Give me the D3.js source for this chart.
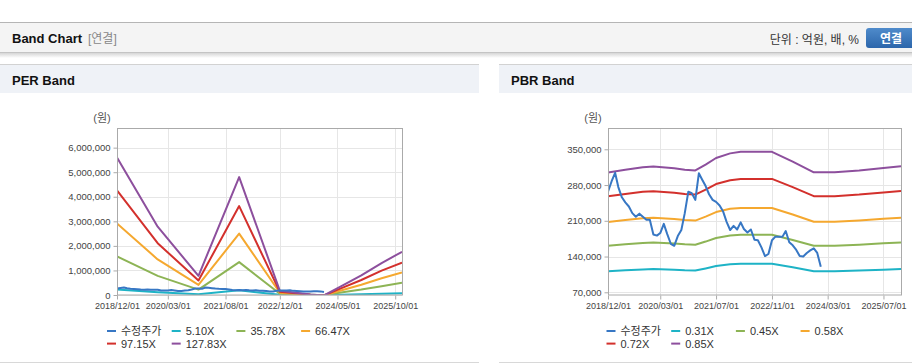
<!DOCTYPE html>
<html><head><meta charset="utf-8">
<script src="https://cdn.jsdelivr.net/npm/d3@7"></script>
<style>
html,body{margin:0;padding:0;background:#fff;}
svg{display:block;font-family:"Liberation Sans","Noto Sans CJK KR",sans-serif;}
</style></head>
<body><svg id="c" width="912" height="364"></svg>
<script>
// ---------- DATA ----------
const priceStart = "2018-12-01"; // monthly adjusted price, one value per month
const priceValues = [267,287,304,276,256,246,238,225,218,224,218,212,212,183,181,186,204,184,165,161,180,192,225,267,264,251,303,291,278,262,251,247,240,228,208,192,200,193,207,194,187,193,173,172,158,141,145,172,179,179,179,190,168,162,153,141,140,147,152,156,147,120].map(v=>v*1000);

const perDates = ["2018-12-01","2019-12-01","2020-12-01","2021-12-01","2022-12-01","2023-09-01","2024-01-01","2024-06-01","2024-12-01","2025-06-01","2025-12-01"];
const per510   = [223000,111000,31000,192000,7000,1000,-1000,14000,32000,55000,75000];
const per3578  = [1570000,780000,220000,1340000,48000,6000,-6000,100000,220000,360000,500000];
const per6647  = [2910000,1450000,410000,2500000,90000,10000,-10000,180000,420000,680000,920000];
const per9715  = [4260000,2110000,590000,3620000,130000,15000,-15000,270000,610000,990000,1320000];
const per12783 = [5600000,2780000,780000,4800000,170000,20000,-20000,350000,800000,1300000,1760000];
const perLabels = ["수정주가","5.10X","35.78X","66.47X","97.15X","127.83X"];
const perTicksY = [0,1000000,2000000,3000000,4000000,5000000,6000000];
const perTicksX = ["2018-12-01","2020-03-01","2021-08-01","2022-12-01","2024-05-01","2025-10-01"];

const pbrDates = ["2018-12-01","2019-05-01","2019-10-01","2020-01-01","2020-07-01","2020-10-01","2021-01-01","2021-04-01","2021-07-01","2021-11-01","2022-02-01","2022-11-01","2023-05-01","2023-11-01","2024-05-01","2024-12-01","2025-07-01","2025-12-01"];
const pbr031 = [111100,113100,114800,115500,114200,113100,112500,116700,121400,124900,126000,126000,118900,111200,111200,112500,114300,115600];
const pbr045 = [161100,164000,166600,167500,165600,164000,163200,169300,176200,181200,182500,182500,172500,161300,161300,163200,165900,167700];
const pbr058 = [207700,211500,214800,215900,213500,211400,210400,218200,227100,233600,235000,235000,222300,208000,208000,210400,213800,216200];
const pbr072 = [258000,262600,266800,268000,265000,262600,261300,271000,282000,289500,292000,292000,276000,258300,258300,261300,265500,268500];
const pbr085 = [304500,310000,315000,316500,313000,310000,308500,320000,333000,342000,345000,345000,326000,305000,305000,308500,313500,317000];
const pbrLabels = ["수정주가","0.31X","0.45X","0.58X","0.72X","0.85X"];
const pbrTicksY = [70000,140000,210000,280000,350000];
const pbrTicksX = ["2018-12-01","2020-03-01","2021-07-01","2022-11-01","2024-03-01","2025-07-01"];

const colors = ["#3777c4","#1eb3c6","#8db455","#f5a82f","#d3302c","#8d4f9d"];
const xDomain = ["2018-12-01","2025-12-01"];

// ---------- DRAW ----------
const P = d3.timeParse("%Y-%m-%d");
const svg = d3.select("#c");
const defs = svg.append("defs");
const grad = defs.append("linearGradient").attr("id","shadow").attr("x1",0).attr("y1",0).attr("x2",0).attr("y2",1);
grad.append("stop").attr("offset","0").attr("stop-color","#d6d6d6");
grad.append("stop").attr("offset","1").attr("stop-color","#ffffff");
const bgrad = defs.append("linearGradient").attr("id","btn").attr("x1",0).attr("y1",0).attr("x2",0).attr("y2",1);
bgrad.append("stop").attr("offset","0").attr("stop-color","#4f8bcb");
bgrad.append("stop").attr("offset","1").attr("stop-color","#2c66ab");

// top header
svg.append("rect").attr("x",0).attr("y",22).attr("width",912).attr("height",1).attr("fill","#b5b5b5");
svg.append("rect").attr("x",0).attr("y",23).attr("width",912).attr("height",29).attr("fill","#f4f4f4");
svg.append("rect").attr("x",0).attr("y",52).attr("width",912).attr("height",1).attr("fill","#c4c4c4");
svg.append("rect").attr("x",0).attr("y",53).attr("width",912).attr("height",5).attr("fill","url(#shadow)");
svg.append("text").attr("x",12).attr("y",43).attr("font-size",13).attr("font-weight","bold").attr("fill","#111").text("Band Chart");
svg.append("text").attr("x",88).attr("y",43).attr("font-size",12).attr("fill","#888").text("[연결]");
svg.append("text").attr("x",859).attr("y",44).attr("font-size",12).attr("fill","#333").attr("text-anchor","end").text("단위 : 억원, 배, %");
svg.append("rect").attr("x",866).attr("y",28).attr("width",52).attr("height",20).attr("rx",3).attr("fill","url(#btn)");
svg.append("text").attr("x",891).attr("y",43).attr("font-size",12).attr("font-weight","bold").attr("fill","#fff").attr("text-anchor","middle").text("연결");

function panel(cfg){
  const g = svg.append("g");
  // panel header
  g.append("rect").attr("x",cfg.px).attr("y",64).attr("width",cfg.pw).attr("height",1).attr("fill","#d2d2d2");
  g.append("rect").attr("x",cfg.px).attr("y",65).attr("width",cfg.pw).attr("height",28).attr("fill","#eff2f7");
  g.append("rect").attr("x",cfg.px).attr("y",362).attr("width",cfg.pw).attr("height",1).attr("fill","#d8d8d8");
  g.append("text").attr("x",cfg.px+12).attr("y",85).attr("font-size",13).attr("font-weight","bold").attr("fill","#111").text(cfg.title);

  const x = d3.scaleTime().domain(xDomain.map(P)).range([cfg.x0,cfg.x1]);
  const y = d3.scaleLinear().domain(cfg.yDomain).range([295,128]);

  // grid
  g.append("g").selectAll("line").data(cfg.ticksY).join("line")
    .attr("x1",cfg.x0).attr("x2",cfg.x1).attr("y1",d=>Math.round(y(d))+0.5).attr("y2",d=>Math.round(y(d))+0.5)
    .attr("stroke","#e6e6e6");
  g.append("g").selectAll("line").data(cfg.ticksX.map(P)).join("line")
    .attr("x1",d=>Math.round(x(d))+0.5).attr("x2",d=>Math.round(x(d))+0.5).attr("y1",128).attr("y2",295)
    .attr("stroke","#e6e6e6");

  // axes
  const ya = d3.axisLeft(y).tickValues(cfg.ticksY).tickFormat(d3.format(",")).tickSize(4).tickPadding(3);
  const yg = g.append("g").attr("transform",`translate(${cfg.x0+0.5},0)`).call(ya);
  const xa = d3.axisBottom(x).tickValues(cfg.ticksX.map(P)).tickFormat(d3.timeFormat("%Y/%m/%d")).tickSize(4).tickPadding(3);
  const xg = g.append("g").attr("transform",`translate(0,295.5)`).call(xa);
  [yg,xg].forEach(a=>{
    a.select(".domain").remove();
    a.selectAll("line").attr("stroke","#aaa");
    a.selectAll("text").attr("fill","#444").attr("font-size",9.5).attr("font-family",'"Liberation Sans",sans-serif');
  });
  xg.selectAll("text").attr("font-size",9);

  g.append("text").attr("x",cfg.x0-15).attr("y",122).attr("font-size",11).attr("fill","#555").attr("text-anchor","middle").text("(원)");

  // clip
  const cid = "clip"+cfg.title.replace(/\s/g,"");
  defs.append("clipPath").attr("id",cid).append("rect").attr("x",cfg.x0).attr("y",128).attr("width",cfg.x1-cfg.x0).attr("height",167);
  const lg = g.append("g").attr("clip-path",`url(#${cid})`);
  const line = d3.line().x(d=>x(d[0])).y(d=>y(d[1]));
  const bandDates = cfg.bandDates.map(P);
  // draw bands first (lowest multiple first), price last? reference: price under bands in PER
  cfg.bands.forEach((vals,i)=>{
    lg.append("path").datum(vals.map((v,j)=>[bandDates[j],v])).attr("d",line)
      .attr("fill","none").attr("stroke",colors[i+1]).attr("stroke-width",2).attr("stroke-linejoin","round");
  });
  const p0 = P(priceStart);
  const priceData = priceValues.map((v,j)=>[d3.timeMonth.offset(p0,j),v]);
  lg.append(cfg.priceOnTop ? "path" : "path").datum(priceData).attr("d",line)
    .attr("fill","none").attr("stroke",colors[0]).attr("stroke-width",2).attr("stroke-linejoin","round");

  // border
  g.append("rect").attr("x",cfg.x0+0.5).attr("y",128.5).attr("width",cfg.x1-cfg.x0).attr("height",166.5)
    .attr("fill","none").attr("stroke","#aaa");

  // legend
  cfg.labels.forEach((lab,i)=>{
    const col = i%4, row = Math.floor(i/4);
    const lx = cfg.lx + col*64.7, ly = 331 + row*12.6;
    g.append("rect").attr("x",lx).attr("y",ly-1).attr("width",9).attr("height",2).attr("fill",colors[i]);
    g.append("text").attr("x",lx+14).attr("y",ly+4).attr("font-size",11).attr("fill","#333").text(lab);
  });
}

panel({title:"PER Band",px:0,pw:479,x0:117,x1:402,yDomain:[0,6800000],ticksY:perTicksY,ticksX:perTicksX,
  bandDates:perDates,bands:[per510,per3578,per6647,per9715,per12783],labels:perLabels,lx:107});
panel({title:"PBR Band",px:499,pw:413,x0:608,x1:901,yDomain:[64700,391700],ticksY:pbrTicksY,ticksX:pbrTicksX,
  bandDates:pbrDates,bands:[pbr031,pbr045,pbr058,pbr072,pbr085],labels:pbrLabels,lx:606.5});
</script></body></html>
